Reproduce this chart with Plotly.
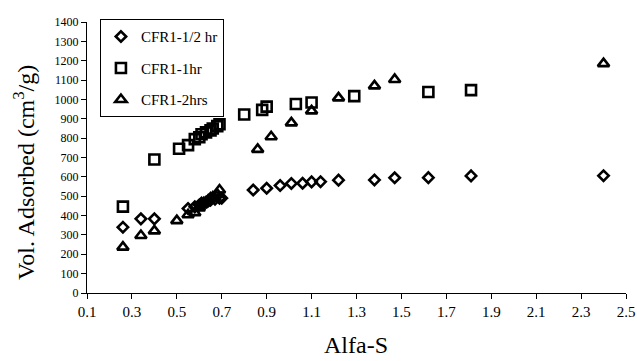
import plotly.graph_objects as go

# Series: CFR1-1/2 hr (diamonds)
x_half = [0.26, 0.34, 0.40, 0.55, 0.58, 0.60, 0.61, 0.63, 0.64, 0.65, 0.67, 0.69, 0.70,
          0.84, 0.90, 0.96, 1.01, 1.06, 1.10, 1.14, 1.22, 1.38, 1.47, 1.62, 1.81, 2.40]
y_half = [340, 383, 383, 436, 445, 455, 465, 470, 475, 480, 485, 490, 490,
          532, 541, 555, 566, 567, 574, 575, 583, 584, 595, 596, 605, 606]

# Series: CFR1-1hr (squares)
x_1hr = [0.26, 0.40, 0.51, 0.55, 0.58, 0.60, 0.61, 0.63, 0.65, 0.66, 0.68, 0.69,
         0.80, 0.88, 0.90, 1.03, 1.10, 1.29, 1.62, 1.81]
y_1hr = [446, 690, 745, 764, 795, 805, 820, 830, 840, 850, 862, 872,
         922, 946, 963, 976, 984, 1017, 1038, 1048]

# Series: CFR1-2hrs (triangles)
x_2hr = [0.26, 0.34, 0.40, 0.50, 0.55, 0.58, 0.60, 0.61, 0.62, 0.64, 0.65, 0.66, 0.68, 0.69,
         0.86, 0.92, 1.01, 1.10, 1.22, 1.38, 1.47, 2.40]
y_2hr = [237, 297, 321, 374, 404, 415, 440, 455, 465, 480, 490, 495, 510, 532,
         742, 807, 879, 941, 1008, 1070, 1103, 1185]

x_ticks = [0.1, 0.3, 0.5, 0.7, 0.9, 1.1, 1.3, 1.5, 1.7, 1.9, 2.1, 2.3, 2.5]
y_ticks = list(range(0, 1401, 100))

FONT = "Liberation Serif, Times New Roman, serif"

fig = go.Figure()
fig.add_trace(go.Scatter(x=x_half, y=y_half, mode="markers", name="CFR1-1/2 hr",
                         legendgroup="a",
                         marker=dict(symbol="diamond-open", size=8, color="black",
                                     line=dict(width=2.6, color="black"))))
fig.add_trace(go.Scatter(x=x_1hr, y=y_1hr, mode="markers", name="CFR1-1hr",
                         legendgroup="b",
                         marker=dict(symbol="square-open", size=10, color="black",
                                     line=dict(width=2.6, color="black"))))
fig.add_trace(go.Scatter(x=x_2hr, y=y_2hr, mode="markers", name="CFR1-2hrs",
                         legendgroup="c",
                         marker=dict(symbol="triangle-up-open", size=10, color="black",
                                     line=dict(width=2.6, color="black"))))

plot_h = 361 - 22 - 68
plot_w = 637 - 87 - 11

fig.update_layout(
    width=637, height=361,
    margin=dict(l=87, r=11, t=22, b=68, pad=0),
    paper_bgcolor="white", plot_bgcolor="white",
    font=dict(family=FONT, color="black"),
    showlegend=True,
    legend=dict(x=0.024, y=1.01, xanchor="left", yanchor="top",
                bordercolor="black", borderwidth=1, bgcolor="white",
                font=dict(family=FONT, size=15, color="black"),
                traceorder="grouped", tracegroupgap=9, itemwidth=30),
    xaxis=dict(range=[0.1, 2.5], tickvals=x_ticks, ticktext=[f"{v:.1f}" for v in x_ticks],
               showgrid=False, zeroline=False, showline=True, linecolor="black", linewidth=1,
               ticks="outside", ticklen=5, tickcolor="black", automargin=False,
               tickfont=dict(family=FONT, size=15, color="black")),
    yaxis=dict(range=[0, 1400], tickvals=y_ticks,
               showgrid=False, zeroline=False, showline=True, linecolor="black", linewidth=1,
               ticks="outside", ticklen=5, tickcolor="black", automargin=False,
               tickfont=dict(family=FONT, size=12, color="black")),
    annotations=[
        dict(text="Alfa-S", xref="paper", yref="paper",
             x=(356 - 87) / plot_w, y=(293 - 345) / plot_h,
             xanchor="center", yanchor="middle",
             showarrow=False, font=dict(family=FONT, size=24, color="black")),
        dict(text="Vol. Adsorbed (cm<sup>3</sup>/g)", textangle=-90, showarrow=False,
             xref="paper", yref="paper",
             x=(24 - 87) / plot_w, y=(293 - 173) / plot_h,
             xanchor="center", yanchor="middle",
             font=dict(family=FONT, size=24, color="black")),
    ],
)

fig.write_html("out.html")
